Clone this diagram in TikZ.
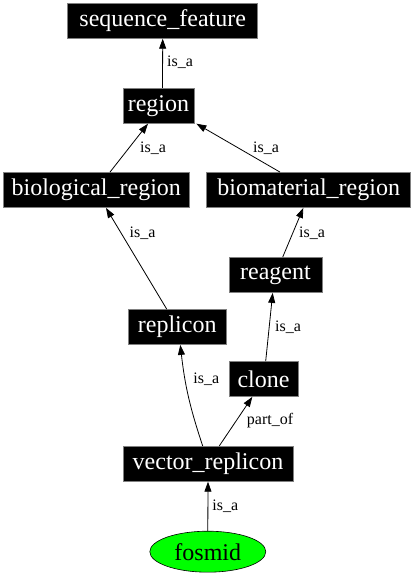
\documentclass[tikz,border=0pt]{standalone}
\usepackage{fontspec}
\setmainfont{Liberation Serif}
\usetikzlibrary{arrows.meta,shapes.geometric}
\begin{document}
\begin{tikzpicture}[x=1pt,y=1pt,
  term/.style={draw=gray,line width=0.8pt,fill=black,text=white,inner sep=0pt,
    minimum height=35pt,font=\fontsize{24}{28}\selectfont},
  rel/.style={-{Triangle[length=10pt,width=7pt]},line width=0.8pt},
  lbl/.style={font=\fontsize{16}{18}\selectfont,inner sep=0pt}]
  \useasboundingbox (0,0) rectangle (415,576);
  % termini
  \node[term, minimum width=190pt] (seqfeat)  at (162.7,555.2) {sequence\_feature};
  \node[term, minimum width=71pt]  (region)   at (158.5,470.2) {region};
  \node[term, minimum width=186pt] (bioreg)   at (96.3,386)    {biological\_region};
  \node[term, minimum width=204pt] (biomat)   at (308.7,386)   {biomaterial\_region};
  \node[term, minimum width=93pt]  (reagent)  at (275.5,301)   {reagent};
  \node[term, minimum width=98pt]  (replicon) at (177.2,249)   {replicon};
  \node[term, minimum width=69pt]  (clone)    at (263.5,197)   {clone};
  \node[term, minimum width=170pt] (vecrep)   at (208,112.2)   {vector\_replicon};
  \node[ellipse, draw, fill=green, line width=0.6pt, inner sep=0pt, minimum width=116pt,
    minimum height=41pt, font=\fontsize{24}{28}\selectfont] (fosmid) at (207.8,24.3) {fosmid};
  % relazioni
  \draw[rel] ([xshift=4pt]region.north) -- (seqfeat.south) node[lbl] at (180,513.7) {is\_a};
  \draw[rel] ([xshift=13.7pt]bioreg.north) -- ([xshift=-10.5pt]region.south) node[lbl] at (153,428) {is\_a};
  \draw[rel] ([xshift=-28.7pt]biomat.north) -- ([xshift=2pt]region.south east) node[lbl] at (266,428) {is\_a};
  \draw[rel] ([xshift=-10.5pt]replicon.north) -- ([xshift=9.7pt]bioreg.south) node[lbl] at (142.5,342.7) {is\_a};
  \draw[rel] ([xshift=7.2pt]reagent.north) -- ([xshift=-5.4pt]biomat.south) node[lbl] at (312,342.7) {is\_a};
  \draw[rel] ([xshift=2.2pt]clone.north) -- ([xshift=-2.8pt]reagent.south) node[lbl] at (288,248.3) {is\_a};
  \draw[rel] ([xshift=-5.3pt]vecrep.north) to[bend left=6] ([xshift=3.1pt]replicon.south) node[lbl] at (206.3,197) {is\_a};
  \draw[rel] ([xshift=11.3pt]vecrep.north) -- ([xshift=-11.2pt]clone.south) node[lbl] at (270,155.3) {part\_of};
  \draw[rel] (fosmid.north) -- (vecrep.south) node[lbl] at (225.3,70) {is\_a};
\end{tikzpicture}
\end{document}
